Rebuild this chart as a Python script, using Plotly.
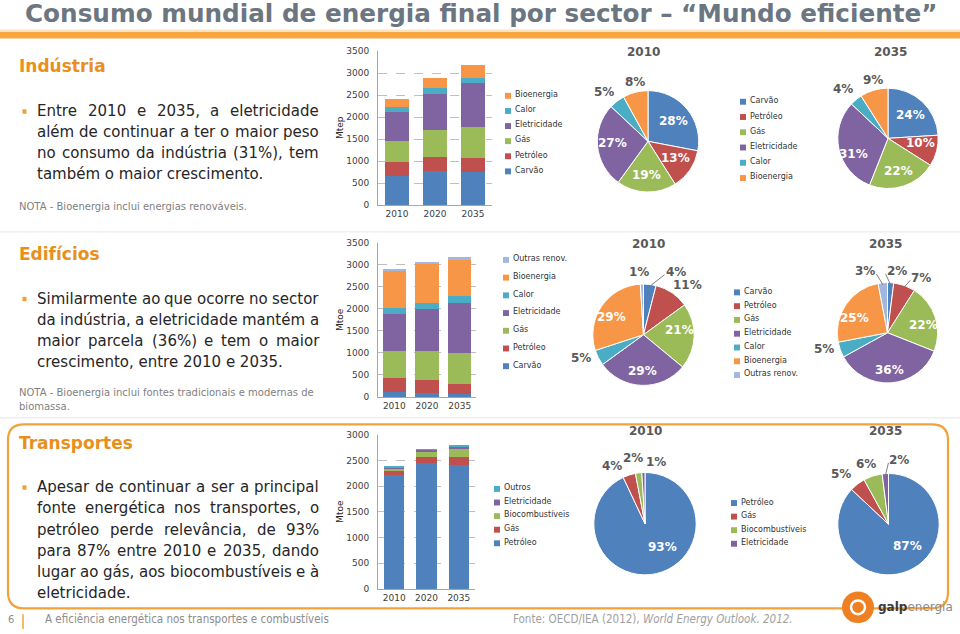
import math
import plotly.graph_objects as go

W, H = 960, 634
def X(px): return px / W
def Y(py): return 1 - py / H

# ---------------- DATA ----------------
years = ["2010", "2020", "2035"]

# Indústria (Mtep)
ind_series = ["Carvão", "Petróleo", "Gás", "Eletricidade", "Calor", "Bioenergia"]
ind_carvao = [675, 770, 750]
ind_petroleo = [310, 330, 320]
ind_gas = [480, 600, 700]
ind_eletricidade = [640, 830, 995]
ind_calor = [115, 125, 125]
ind_bioenergia = [200, 235, 290]
ind_pie_2010 = [28, 13, 19, 27, 5, 8]
ind_pie_2035 = [24, 10, 22, 31, 4, 9]

# Edifícios (Mtoe)
edf_series = ["Carvão", "Petróleo", "Gás", "Eletricidade", "Calor", "Bioenergia", "Outras renov."]
edf_carvao = [115, 100, 65]
edf_petroleo = [320, 295, 225]
edf_gas = [610, 645, 700]
edf_eletricidade = [840, 965, 1150]
edf_calor = [145, 140, 150]
edf_bioenergia = [845, 900, 810]
edf_outras = [30, 25, 80]
edf_pie_2010 = [4, 11, 21, 29, 5, 29, 1]
edf_pie_2035 = [2, 7, 22, 36, 5, 25, 3]

# Transportes (Mtoe)
trp_series = ["Petróleo", "Gás", "Biocombustíveis", "Eletricidade", "Outros"]
trp_petroleo = [2210, 2460, 2420]
trp_gas = [90, 110, 140]
trp_bio = [50, 90, 165]
trp_eletricidade = [25, 50, 55]
trp_outros = [10, 10, 10]
trp_pie_labels = ["Petróleo", "Gás", "Biocombustíveis", "Eletricidade"]
trp_pie_2010 = [93, 4, 2, 1]
trp_pie_2035 = [87, 5, 6, 2]

# ---------------- STYLE ----------------
BLUE, RED, GREEN, PURPLE, TEAL, ORANGE, LBLUE = (
    "#4F81BD", "#C0504D", "#9BBB59", "#8064A2", "#4BACC6", "#F79646", "#A3B6DD")
ind_colors = [BLUE, RED, GREEN, PURPLE, TEAL, ORANGE]
edf_colors = [BLUE, RED, GREEN, PURPLE, TEAL, ORANGE, LBLUE]
trp_colors = [BLUE, RED, GREEN, PURPLE, TEAL]
TXT = "#262626"
GRAYTXT = "#595959"
ORG = "#E8901B"
FONT = "DejaVu Sans, Verdana, sans-serif"
CFONT = "DejaVu Sans Condensed, Liberation Sans Narrow, sans-serif"

fig = go.Figure()
annotations, shapes = [], []

def ann(text, x, y, size, color=TXT, xanchor="left", yanchor="middle", family=FONT, angle=0, weight="normal"):
    yy = y - 0.15 * size if angle == 0 else y
    annotations.append(dict(text=text, x=X(x), y=Y(yy), xref="paper", yref="paper",
                            xanchor=xanchor, yanchor=yanchor, showarrow=False, textangle=angle,
                            borderpad=0,
                            font=dict(size=size, color=color, family=family, weight=weight)))

# ---------------- BAR CHARTS ----------------
bar_sets = [
    ("x", "y", ind_series, [ind_carvao, ind_petroleo, ind_gas, ind_eletricidade, ind_calor, ind_bioenergia], ind_colors, 0.63),
    ("x2", "y2", edf_series, [edf_carvao, edf_petroleo, edf_gas, edf_eletricidade, edf_calor, edf_bioenergia, edf_outras], edf_colors, 0.72),
    ("x3", "y3", trp_series, [trp_petroleo, trp_gas, trp_bio, trp_eletricidade, trp_outros], trp_colors, 0.62),
]
for xa, ya, names, vals, cols, wd in bar_sets:
    for n, v, c in zip(names, vals, cols):
        fig.add_trace(go.Bar(x=years, y=v, name=n, marker=dict(color=c, line=dict(width=0)),
                             width=wd, xaxis=xa, yaxis=ya, showlegend=False, hoverinfo="skip"))

def xaxis_cfg(x0, x1, anchor):
    return dict(domain=[X(x0), X(x1)], anchor=anchor, type="category", range=[-0.5, 2.5],
                showline=True, linecolor="#A6A6A6", linewidth=1, ticks="", showgrid=False,
                tickfont=dict(size=9, color="#404040", family=FONT), fixedrange=True)

def yaxis_cfg(ytop, ybot, anchor, top):
    return dict(domain=[Y(ybot), Y(ytop)], anchor=anchor, range=[0, top], dtick=500,
                showline=True, linecolor="#A6A6A6", linewidth=1, ticks="",
                showgrid=True, gridcolor="#BFBFBF", griddash="dash", gridwidth=1,
                zeroline=False, ticklabelstandoff=6,
                tickfont=dict(size=9, color="#404040", family=FONT), fixedrange=True)

fig.update_layout(
    xaxis=xaxis_cfg(378, 492, "y"), yaxis=yaxis_cfg(46.7, 203.5, "x", 3500),
    xaxis2=xaxis_cfg(378, 476, "y2"), yaxis2=yaxis_cfg(241.7, 398.3, "x2", 3500),
    xaxis3=xaxis_cfg(378, 475, "y3"), yaxis3=yaxis_cfg(436.7, 593.3, "x3", 3000),
)
ann("Mtep", 340, 125, 9, TXT, "center", angle=-90)
ann("Mtoe", 340, 320, 9, TXT, "center", angle=-90)
ann("Mtoe", 340, 515, 9, TXT, "center", angle=-90)

# ---------------- PIES ----------------
def add_pie(labels, values, colors, cx, cy, r, inside, nudges, leaders):
    fig.add_trace(go.Pie(
        labels=labels, values=values, sort=False, direction="clockwise", rotation=0,
        marker=dict(colors=colors, line=dict(color="white", width=1)),
        domain=dict(x=[X(cx - r), X(cx + r)], y=[Y(cy + r), Y(cy - r)]),
        textinfo="none", showlegend=False, hoverinfo="skip"))
    total = float(sum(values))
    cum = 0.0
    for v, ins, (dx, dy), lead in zip(values, inside, nudges, leaders):
        mid = math.radians((cum + v / 2) / total * 360)
        cum += v
        R = 0.65 * r if ins else r + 13
        lx = cx + R * math.sin(mid) + dx
        ly = cy - R * math.cos(mid) + dy
        ann(f"{v}%", lx, ly, 12, "white" if ins else GRAYTXT, "center", weight="bold")
        if lead:
            ex = cx + (r - 2) * math.sin(mid)
            ey = cy - (r - 2) * math.cos(mid)
            tx = lx - 11 if lx > ex else lx + 11
            shapes.append(dict(type="path", xref="paper", yref="paper",
                               path=f"M {X(ex)},{Y(ey)} L {X(tx)},{Y(ly + 1)}",
                               line=dict(color="#7F7F7F", width=1)))

I, O = True, False
add_pie(ind_series, ind_pie_2010, ind_colors, 648, 138.5, 51.5,
        [I, I, I, I, O, O], [(0, 2), (0, 0), (0, 3), (-2, 0), (-4, 3), (3, 4)], [O] * 6)
add_pie(ind_series, ind_pie_2035, ind_colors, 888, 135.5, 51,
        [I, I, I, I, O, O], [(0, 2), (0, -2), (0, 3), (-2, 10), (-4, 1), (3, 4)], [O] * 6)
add_pie(edf_series, edf_pie_2010, edf_colors, 643.5, 335, 51.5,
        [O, O, I, I, O, I, O], [(24, 2), (8, 5), (3, -4), (0, 5), (-5, -4), (-4, 3), (-2, 3)],
        [I, O, O, O, O, O, O])
add_pie(edf_series, edf_pie_2035, edf_colors, 887.5, 333, 51,
        [O, O, I, I, O, I, O], [(5, 3), (12, 6), (4, 4), (0, 7), (-3, -3), (-6, 5), (-16, 3)],
        [I, I, O, O, O, O, I])
add_pie(trp_pie_labels, trp_pie_2010, trp_colors[:4], 645, 527, 52,
        [I, O, O, O], [(10, -8), (-13, 5), (-4, 0), (13, 4)], [O] * 4)
add_pie(trp_pie_labels, trp_pie_2035, trp_colors[:4], 888.5, 527.5, 51.5,
        [I, O, O, O], [(6, -7), (-8, 2), (-3, 2), (15, 1)], [O, O, O, I])

for yy, x10, x35 in [(50, 643, 890), (245, 648, 885), (435, 645, 885)]:
    ann("2010", x10, yy, 12, GRAYTXT, "center", weight="bold")
    ann("2035", x35, yy, 12, GRAYTXT, "center", weight="bold")

# ---------------- MANUAL LEGENDS ----------------
def legend(names, colors, mx, y0, dy, size=8):
    for i, (n, c) in enumerate(zip(names, colors)):
        yy = y0 + i * dy
        shapes.append(dict(type="rect", xref="paper", yref="paper",
                           x0=X(mx - 3), x1=X(mx + 3), y0=Y(yy + 3), y1=Y(yy - 3),
                           fillcolor=c, line=dict(width=0)))
        ann(n, mx + 6, yy, size, "#333333")

legend(ind_series[::-1], ind_colors[::-1], 508, 92.3, 15.35)
legend(ind_series, ind_colors, 743, 98.3, 15.5)
legend(edf_series[::-1], edf_colors[::-1], 506, 259, 18)
legend(edf_series, edf_colors, 737, 292, 14)
legend(trp_series[::-1], trp_colors[::-1], 497, 491.7, 13.8)
legend(trp_pie_labels, trp_colors[:4], 734, 506, 13.8)

# ---------------- TEXT ----------------
ann("Consumo mundial de energia final por sector – “Mundo eficiente”", 481, 12, 24.7,
    "#6B7680", "center", family=FONT, weight="bold")
shapes.append(dict(type="rect", xref="paper", yref="paper", x0=0, x1=1, y0=Y(34), y1=Y(27.5),
                   fillcolor="#F7A541", line=dict(width=0), layer="below"))
shapes.append(dict(type="rect", xref="paper", yref="paper", x0=0, x1=1, y0=Y(27.5), y1=Y(25),
                   fillcolor="#FCE3C0", line=dict(width=0), layer="below"))

# approximate DejaVu Sans advance widths (em) for justified text
CW = {" ": 0.318, "a": 0.613, "b": 0.635, "c": 0.550, "d": 0.635, "e": 0.615, "f": 0.352,
      "g": 0.635, "h": 0.634, "i": 0.278, "j": 0.278, "k": 0.579, "l": 0.278, "m": 0.974,
      "n": 0.634, "o": 0.612, "p": 0.635, "q": 0.635, "r": 0.411, "s": 0.521, "t": 0.392,
      "u": 0.634, "v": 0.592, "w": 0.818, "x": 0.592, "y": 0.592, "z": 0.525, ",": 0.318,
      ".": 0.318, "(": 0.390, ")": 0.390, "%": 0.950, "E": 0.632, "S": 0.635, "A": 0.684}
BASE = {"á": "a", "à": "a", "â": "a", "ã": "a", "é": "e", "ê": "e", "í": "i", "ó": "o",
        "ô": "o", "õ": "o", "ú": "u", "ç": "c"}
def tw(s, size):
    return sum(CW.get(BASE.get(ch, ch), 0.636 if ch.isdigit() else 0.6) for ch in s) * size

BODY = 15
LEFT, RIGHT = 36, 318
def paragraph(lines, y0, dy):
    for i, line in enumerate(lines):
        yy = y0 + i * dy
        words = line.split(" ")
        if i == len(lines) - 1 or len(words) < 2:
            ann(line, LEFT, yy, BODY, TXT)
            continue
        widths = [tw(w, BODY) for w in words]
        gap = (RIGHT - LEFT - sum(widths)) / (len(words) - 1)
        x = LEFT
        for w, wd in zip(words, widths):
            ann(w, x, yy, BODY, TXT)
            x += wd + gap

sections = [
    ("Indústria", 65, ["Entre 2010 e 2035, a eletricidade",
                       "além de continuar a ter o maior peso",
                       "no consumo da indústria (31%), tem",
                       "também o maior crescimento."], 110, 21.3,
     ["NOTA - Bioenergia inclui energias renováveis."], 206.5),
    ("Edifícios", 256, ["Similarmente ao que ocorre no sector",
                        "da indústria, a eletricidade mantém a",
                        "maior parcela (36%) e tem o maior",
                        "crescimento, entre 2010 e 2035."], 300.5, 21.5,
     ["NOTA - Bioenergia inclui fontes tradicionais e modernas de", "biomassa."], 395),
    ("Transportes", 448, ["Apesar de continuar a ser a principal",
                          "fonte energética nos transportes, o",
                          "petróleo perde relevância, de 93%",
                          "para 87% entre 2010 e 2035, dando",
                          "lugar ao gás, aos biocombustíveis e à",
                          "eletricidade."], 492, 21.6, [], 0),
]
for head, hy, lines, ly, ldy, notes, ny in sections:
    ann(head, 18, hy, 17, ORG, weight="bold")
    shapes.append(dict(type="rect", xref="paper", yref="paper", x0=X(22.5), x1=X(26.5),
                       y0=Y(ly + 0.5), y1=Y(ly - 4), fillcolor="#F0A030", line=dict(width=0)))
    paragraph(lines, ly, ldy)
    for i, t in enumerate(notes):
        ann(t, 18, ny + i * 14, 10, "#7F7F7F")

# separators
for yy in (230.5, 419.5):
    shapes.append(dict(type="line", xref="paper", yref="paper", x0=0, x1=1, y0=Y(yy), y1=Y(yy),
                       line=dict(color="#E6E6E6", width=1), layer="below"))

# rounded box around Transportes
x0, x1, y0, y1, rr = X(8), X(948), Y(426), Y(613), 16
rx, ry = rr / W, rr / H
path = (f"M {x0+rx},{y0} L {x1-rx},{y0} Q {x1},{y0} {x1},{y0-ry} "
        f"L {x1},{y1+ry} Q {x1},{y1} {x1-rx},{y1} L {x0+rx},{y1} "
        f"Q {x0},{y1} {x0},{y1+ry} L {x0},{y0-ry} Q {x0},{y0} {x0+rx},{y0} Z")
shapes.append(dict(type="path", xref="paper", yref="paper", path=path,
                   line=dict(color="#F2A23A", width=2.2), fillcolor="rgba(0,0,0,0)"))

# footer
ann("6", 11, 626, 11, "#8C8C8C", "center", family=CFONT)
shapes.append(dict(type="line", xref="paper", yref="paper", x0=X(23), x1=X(23), y0=Y(619), y1=Y(634),
                   line=dict(color="#F2A23A", width=1.5)))
ann("A eficiência energética nos transportes e combustíveis", 44, 626, 11.5, "#8C8C8C", family=CFONT)
ann("Fonte: OECD/IEA (2012), <i>World Energy Outlook. 2012.</i>", 512, 626, 11.5, "#A0A0A0", family=CFONT)

# galp logo
shapes.append(dict(type="circle", xref="paper", yref="paper", x0=X(842), x1=X(874), y0=Y(628), y1=Y(596),
                   fillcolor="#EE7F22", line=dict(width=0)))
shapes.append(dict(type="circle", xref="paper", yref="paper", x0=X(851), x1=X(865), y0=Y(619), y1=Y(605),
                   fillcolor="rgba(0,0,0,0)", line=dict(color="white", width=2.5)))
annotations.append(dict(text="<b>galp</b><span style='color:#8C8C8C'>energia</span>", x=X(876), y=Y(612),
                        xref="paper", yref="paper", xanchor="left", yanchor="middle", showarrow=False,
                        font=dict(size=12, color="#3A3A3A", family=FONT)))

fig.update_layout(
    width=W, height=H, margin=dict(l=0, r=0, t=0, b=0),
    paper_bgcolor="white", plot_bgcolor="white",
    barmode="stack", showlegend=False,
    annotations=annotations, shapes=shapes,
    font=dict(family=FONT),
)
fig.write_html(
    "out.html", config={"displayModeBar": False},
    post_script=("document.documentElement.style.margin='0';document.documentElement.style.overflow='hidden';"
                 "document.body.style.margin='0';document.body.style.padding='0';"
                 "document.body.style.overflow='hidden';"
                 "var d=document.body.firstElementChild;if(d){d.style.fontSize='0';d.style.lineHeight='0';}"))
